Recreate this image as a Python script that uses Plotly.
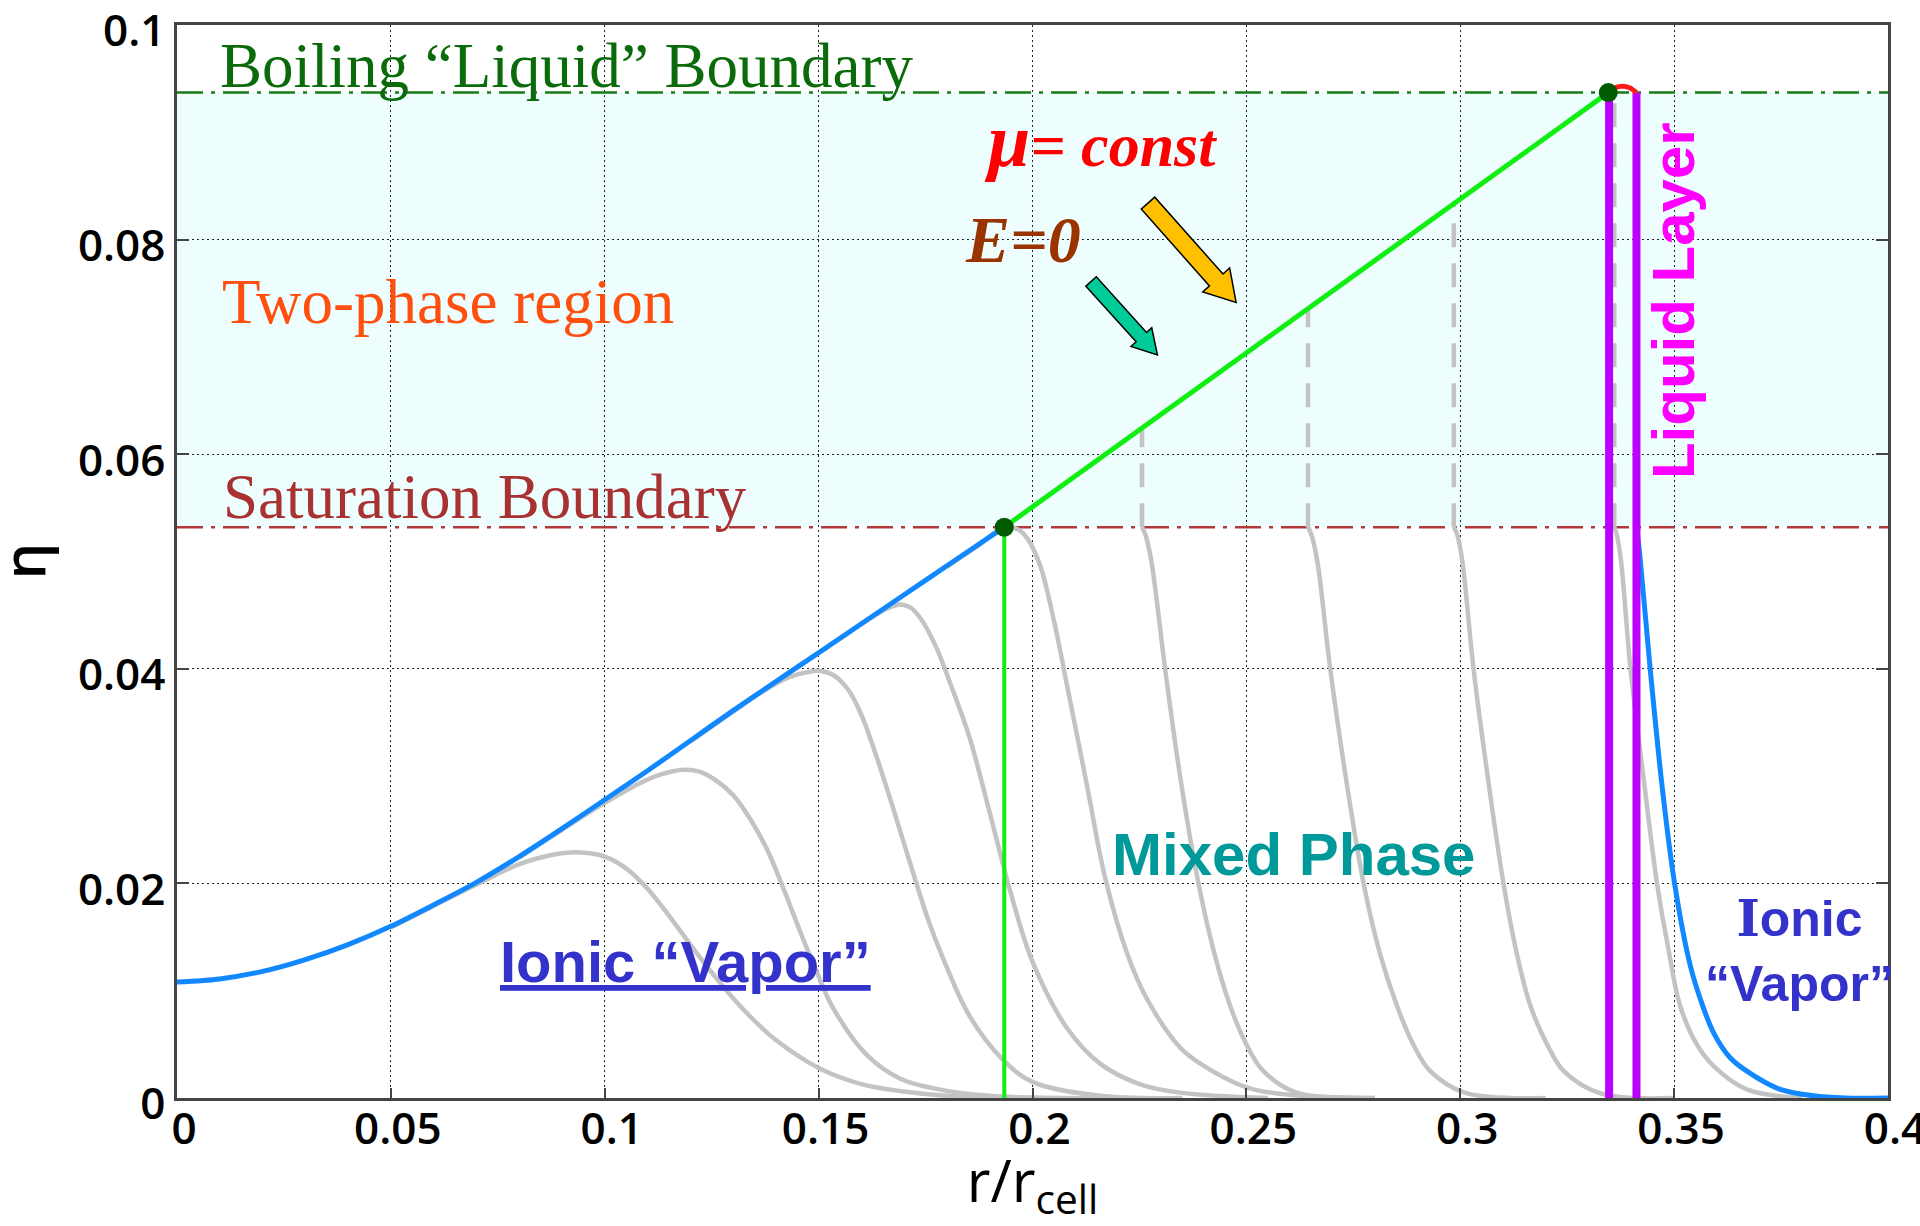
import math
import plotly.graph_objects as go

# ---------------- data ----------------
x_tickvals = [0, 0.05, 0.1, 0.15, 0.2, 0.25, 0.3, 0.35, 0.4]
x_ticktext = ["0", "0.05", "0.1", "0.15", "0.2", "0.25", "0.3", "0.35", "0.4"]
y_tickvals = [0, 0.02, 0.04, 0.06, 0.08, 0.1]
y_ticktext = ["0", "0.02", "0.04", "0.06", "0.08", "0.1"]

eta_saturation = 0.0532
eta_boiling = 0.0937

blue_left_r = [0, 0.01, 0.02, 0.03, 0.04, 0.05, 0.06, 0.07, 0.08, 0.09, 0.10,
               0.11, 0.12, 0.13, 0.14, 0.15, 0.16, 0.17, 0.18, 0.1934]
blue_left_eta = [0.0108, 0.0111, 0.0118, 0.0129, 0.0143, 0.0160, 0.0180, 0.0201,
                 0.0225, 0.0251, 0.0278, 0.0305, 0.0333, 0.0361, 0.0388, 0.0415,
                 0.0442, 0.0469, 0.0496, 0.0532]

blue_right_r = [0.3412, 0.3420, 0.3444, 0.3472, 0.3501, 0.3538, 0.3565, 0.3592,
                0.3630, 0.3670, 0.3748, 0.3826, 0.3900, 0.4000]
blue_right_eta = [0.0532, 0.0505, 0.0400, 0.0290, 0.0200, 0.0123, 0.0088, 0.0061,
                  0.0038, 0.0025, 0.0008, 0.0002, 0.0, 0.0]

gray1_r = [0.05, 0.06, 0.07, 0.08, 0.087, 0.0935, 0.1, 0.105, 0.11, 0.115, 0.12,
           0.125, 0.13, 0.135, 0.14, 0.15, 0.16, 0.17, 0.18, 0.2, 0.22]
gray1_eta = [0.0159, 0.0179, 0.0199, 0.0218, 0.0226, 0.0229, 0.0225, 0.0214, 0.0195,
             0.0170, 0.0143, 0.0117, 0.0093, 0.0072, 0.0054, 0.0028, 0.0013, 0.0006,
             0.0002, 0.0, 0.0]

gray2_r = [0.08, 0.09, 0.1, 0.108, 0.1135, 0.1185, 0.1223, 0.126, 0.1301, 0.134,
           0.1379, 0.1418, 0.1457, 0.1496, 0.1535, 0.1613, 0.1691, 0.1769, 0.19, 0.21]
gray2_eta = [0.0224, 0.0250, 0.0275, 0.0293, 0.0302, 0.0306, 0.0304, 0.0296, 0.0282,
             0.0260, 0.0232, 0.0195, 0.0155, 0.0117, 0.0083, 0.0040, 0.0018, 0.0009,
             0.0002, 0.0]

gray3_r = [0.12, 0.13, 0.137, 0.143, 0.1475, 0.1505, 0.1535, 0.157, 0.16, 0.1632,
           0.1664, 0.1696, 0.1727, 0.1758, 0.179, 0.1852, 0.193, 0.2, 0.2158, 0.235]
gray3_eta = [0.0332, 0.0360, 0.0379, 0.0392, 0.0397, 0.0398, 0.0394, 0.0380, 0.0357,
             0.0322, 0.0283, 0.0242, 0.0202, 0.0164, 0.0131, 0.0077, 0.0036, 0.0015,
             0.0002, 0.0]

gray4_r = [0.145, 0.155, 0.162, 0.1665, 0.169, 0.1715, 0.174, 0.1775, 0.181, 0.1852,
           0.19, 0.1945, 0.2, 0.2081, 0.2158, 0.225, 0.2345, 0.255]
gray4_eta = [0.0401, 0.0428, 0.0447, 0.0457, 0.0460, 0.0457, 0.0446, 0.0420, 0.0384,
             0.0337, 0.0266, 0.0197, 0.0127, 0.0065, 0.0032, 0.0013, 0.0005, 0.0]

gray5_r = [0.18, 0.187, 0.1934, 0.1965, 0.1987, 0.2018, 0.205, 0.2081, 0.2128, 0.217,
           0.2221, 0.2268, 0.2345, 0.2385, 0.25, 0.26, 0.28]
gray5_eta = [0.0495, 0.0514, 0.0532, 0.0530, 0.0522, 0.0496, 0.0445, 0.0384, 0.0290,
             0.0205, 0.0135, 0.0092, 0.0047, 0.0034, 0.0010, 0.0003, 0.0]

gray6_r = [0.2256, 0.2264, 0.2278, 0.2310, 0.2345, 0.2388, 0.2425, 0.2462, 0.2500,
           0.2540, 0.2618, 0.2800]
gray6_eta = [0.0532, 0.0525, 0.0500, 0.0400, 0.0300, 0.0200, 0.0135, 0.0086, 0.0050,
             0.0025, 0.0005, 0.0]

gray7_r = [0.2644, 0.2652, 0.2666, 0.2696, 0.2732, 0.2774, 0.2812, 0.2852, 0.2890,
           0.2930, 0.3010, 0.3200]
gray7_eta = [0.0532, 0.0525, 0.0500, 0.0400, 0.0300, 0.0200, 0.0135, 0.0086, 0.0050,
             0.0025, 0.0005, 0.0]

gray8_r = [0.2985, 0.2993, 0.3005, 0.3031, 0.3064, 0.3101, 0.3132, 0.3164, 0.3203,
           0.3242, 0.3330, 0.3500]
gray8_eta = [0.0532, 0.0525, 0.0500, 0.0400, 0.0300, 0.0200, 0.0135, 0.0086, 0.0050,
             0.0025, 0.0004, 0.0]

gray9_r = [0.3360, 0.3366, 0.3376, 0.3398, 0.3428, 0.3460, 0.3487, 0.3514, 0.3553,
           0.3592, 0.3670, 0.3800]
gray9_eta = [0.0532, 0.0525, 0.0500, 0.0400, 0.0300, 0.0200, 0.0138, 0.0086, 0.0050,
             0.0030, 0.0008, 0.0]

# vertical jumps (dashed) from the saturation boundary up to the mu=const line
jump_r = [0.2256, 0.2644, 0.2985, 0.3360]
jump_eta_top = [0.0624, 0.0736, 0.0834, 0.0937]

# mu = const (E = 0) line and its end points
mu_const_r = [0.1934, 0.3346]
mu_const_eta = [0.0532, 0.0937]

# liquid layer boundaries
liquid_layer_r = [0.3348, 0.3412]

# small red arc on top of the liquid layer
arc_r = [0.3346, 0.3362, 0.3379, 0.3396, 0.3412]
arc_eta = [0.0937, 0.09415, 0.0943, 0.09415, 0.0937]

# block arrows: (tail, tip)
orange_arrow = [(0.2270, 0.0834), (0.2476, 0.07415)]
teal_arrow = [(0.2137, 0.0761), (0.2292, 0.06925)]

# ---------------- layout geometry ----------------
W, H = 1920, 1226
ML, MR, MT, MB = 177, 32, 25, 128
X_RANGE = [0, 0.4]
Y_RANGE = [0, 0.1]
KX = (W - ML - MR) / (X_RANGE[1] - X_RANGE[0])
KY = (H - MT - MB) / (Y_RANGE[1] - Y_RANGE[0])

SERIF = "Liberation Serif, Times New Roman, serif"
SANS = "Liberation Sans, Arial, sans-serif"
TICKFONT = "Open Sans, Liberation Sans, Arial, sans-serif"

GRAY = "#c3c3c3"
BLUE = "#1188ff"
GREEN = "#11ee11"
PURPLE = "#bb00ff"

fig = go.Figure()

# boundaries
fig.add_trace(go.Scatter(x=X_RANGE, y=[eta_boiling, eta_boiling], mode="lines",
                         line=dict(color="#1a7a1a", width=2.5, dash="26px,8px,4px,8px")))
fig.add_trace(go.Scatter(x=X_RANGE, y=[eta_saturation, eta_saturation], mode="lines",
                         line=dict(color="#b03838", width=2.5, dash="26px,8px,4px,8px")))

# gray profiles
for gr, ge in [(gray1_r, gray1_eta), (gray2_r, gray2_eta), (gray3_r, gray3_eta),
               (gray4_r, gray4_eta), (gray5_r, gray5_eta), (gray6_r, gray6_eta),
               (gray7_r, gray7_eta), (gray8_r, gray8_eta), (gray9_r, gray9_eta)]:
    fig.add_trace(go.Scatter(x=gr, y=ge, mode="lines",
                             line=dict(color=GRAY, width=4.5, shape="spline", smoothing=1.0)))

# dashed jumps
jx, jy = [], []
for r, top in zip(jump_r, jump_eta_top):
    jx += [r, r, None]
    jy += [eta_saturation, top, None]
fig.add_trace(go.Scatter(x=jx, y=jy, mode="lines",
                         line=dict(color=GRAY, width=4.5, dash="24px,16px")))

# blue branches
fig.add_trace(go.Scatter(x=blue_left_r, y=blue_left_eta, mode="lines",
                         line=dict(color=BLUE, width=5, shape="spline", smoothing=0.8)))
fig.add_trace(go.Scatter(x=blue_right_r, y=blue_right_eta, mode="lines",
                         line=dict(color=BLUE, width=5, shape="spline", smoothing=0.8)))

# green mu=const line and vertical
fig.add_trace(go.Scatter(x=mu_const_r, y=mu_const_eta, mode="lines",
                         line=dict(color=GREEN, width=5)))
fig.add_trace(go.Scatter(x=[mu_const_r[0], mu_const_r[0]], y=[Y_RANGE[0], mu_const_eta[0]],
                         mode="lines", line=dict(color=GREEN, width=4)))

# purple liquid layer
lx, ly = [], []
for r in liquid_layer_r:
    lx += [r, r, None]
    ly += [Y_RANGE[0], eta_boiling, None]
fig.add_trace(go.Scatter(x=lx, y=ly, mode="lines", line=dict(color=PURPLE, width=8),
                         cliponaxis=False))

# red arc
fig.add_trace(go.Scatter(x=arc_r, y=arc_eta, mode="lines",
                         line=dict(color="#ff1a1a", width=5, shape="spline")))

# dots
fig.add_trace(go.Scatter(x=mu_const_r, y=mu_const_eta, mode="markers",
                         marker=dict(color="#005a00", size=19), cliponaxis=False))

# ---------------- shapes ----------------
shapes = [dict(type="rect", xref="x", yref="y", x0=X_RANGE[0], x1=X_RANGE[1],
               y0=eta_saturation, y1=eta_boiling, fillcolor="#eefefe",
               line=dict(width=0), layer="below")]


def arrow_path(tail, tip, shaft_w, head_w, head_len):
    tx, ty = tail[0] * KX, -tail[1] * KY
    px, py = tip[0] * KX, -tip[1] * KY
    dx, dy = px - tx, py - ty
    L = math.hypot(dx, dy)
    ux, uy = dx / L, dy / L
    nx, ny = -uy, ux
    kx, ky = px - ux * head_len, py - uy * head_len
    pts = [(tx + nx * shaft_w / 2, ty + ny * shaft_w / 2),
           (kx + nx * shaft_w / 2, ky + ny * shaft_w / 2),
           (kx + nx * head_w / 2, ky + ny * head_w / 2),
           (px, py),
           (kx - nx * head_w / 2, ky - ny * head_w / 2),
           (kx - nx * shaft_w / 2, ky - ny * shaft_w / 2),
           (tx - nx * shaft_w / 2, ty - ny * shaft_w / 2)]
    d = "M" + " L".join(f"{x / KX:.6f},{-y / KY:.6f}" for x, y in pts) + " Z"
    return d


shapes.append(dict(type="path", xref="x", yref="y",
                   path=arrow_path(orange_arrow[0], orange_arrow[1], 18, 36, 30),
                   fillcolor="#ffc000", line=dict(color="black", width=1.5)))
shapes.append(dict(type="path", xref="x", yref="y",
                   path=arrow_path(teal_arrow[0], teal_arrow[1], 14, 28, 24),
                   fillcolor="#00cc99", line=dict(color="black", width=1.5)))

# ---------------- annotations ----------------
ann = []


def add_text(text, x, y, size, color, family, xanchor="center", angle=0, bold=False):
    ann.append(dict(text=text, x=x, y=y, xref="x", yref="y", showarrow=False,
                    xanchor=xanchor, yanchor="middle", textangle=angle,
                    font=dict(size=size, color=color, family=family,
                              weight="bold" if bold else "normal")))


add_text("Boiling \u201cLiquid\u201d Boundary", 0.0096, 0.0962, 63, "#0b6b0b", SERIF, "left")
add_text("Two-phase region", 0.0100, 0.0742, 63, "#ff4f0f", SERIF, "left")
add_text("Saturation Boundary", 0.0104, 0.0560, 63, "#a83232", SERIF, "left")
add_text("<i><span style='font-size:76px'>\u03bc</span>= const</i>", 0.2159, 0.0893, 62,
         "#ff0000", SERIF, bold=True)
add_text("<i>E=0</i>", 0.1977, 0.0800, 66, "#993300", SERIF, bold=True)
add_text("Mixed Phase", 0.2611, 0.02265, 60, "#009999", SANS, bold=True)
add_text("<u>Ionic \u201cVapor\u201d</u>", 0.1189, 0.01268, 58, "#3333cc", SANS, bold=True)
add_text("<span style='font-family:DejaVu Serif'>I</span>onic<br>\u201cVapor\u201d", 0.3793,
         0.01379, 50, "#3333cc", SANS, bold=True)
add_text("Liquid Layer", 0.3498, 0.0743, 60, "#ff00ff", SANS, angle=-90, bold=True)

# y-axis title (eta), placed in paper coordinates next to the tick labels
ann.append(dict(text="\u03b7", xref="paper", yref="paper", x=(22 - ML) / (W - ML - MR),
                y=0.5, xanchor="center", yanchor="middle", showarrow=False, textangle=-90,
                font=dict(family=TICKFONT, size=58, color="black", weight=600)))

fig.update_layout(
    width=W, height=H, autosize=False,
    margin=dict(l=ML, r=MR, t=MT, b=MB, autoexpand=False),
    paper_bgcolor="white", plot_bgcolor="white",
    showlegend=False,
    shapes=shapes, annotations=ann,
    xaxis=dict(range=X_RANGE, tickvals=x_tickvals, ticktext=x_ticktext,
               showgrid=True, gridcolor="#222222", gridwidth=1.2, griddash="2px,3px",
               zeroline=False, showline=True, linecolor="#444444", linewidth=2.5,
               mirror=True, ticks="inside", ticklen=10, tickwidth=2, tickcolor="#444444",
               tickfont=dict(family=TICKFONT, size=44, color="black", weight=600),
               ticklabelshift=7, ticklabelstandoff=-10, ticklabeloverflow="allow",
               title=dict(text="r/r<sub>cell</sub>",
                          font=dict(family=TICKFONT, size=58, color="black"),
                          standoff=49)),
    yaxis=dict(range=Y_RANGE, tickvals=y_tickvals, ticktext=y_ticktext,
               showgrid=True, gridcolor="#222222", gridwidth=1.2, griddash="2px,3px",
               zeroline=False, showline=True, linecolor="#444444", linewidth=2.5,
               mirror="ticks", ticks="inside", ticklen=12, tickwidth=2, tickcolor="#444444",
               tickfont=dict(family=TICKFONT, size=44, color="black", weight=600),
               ticklabelshift=6, ticklabeloverflow="allow"),
)

fig.write_html("out.html")
